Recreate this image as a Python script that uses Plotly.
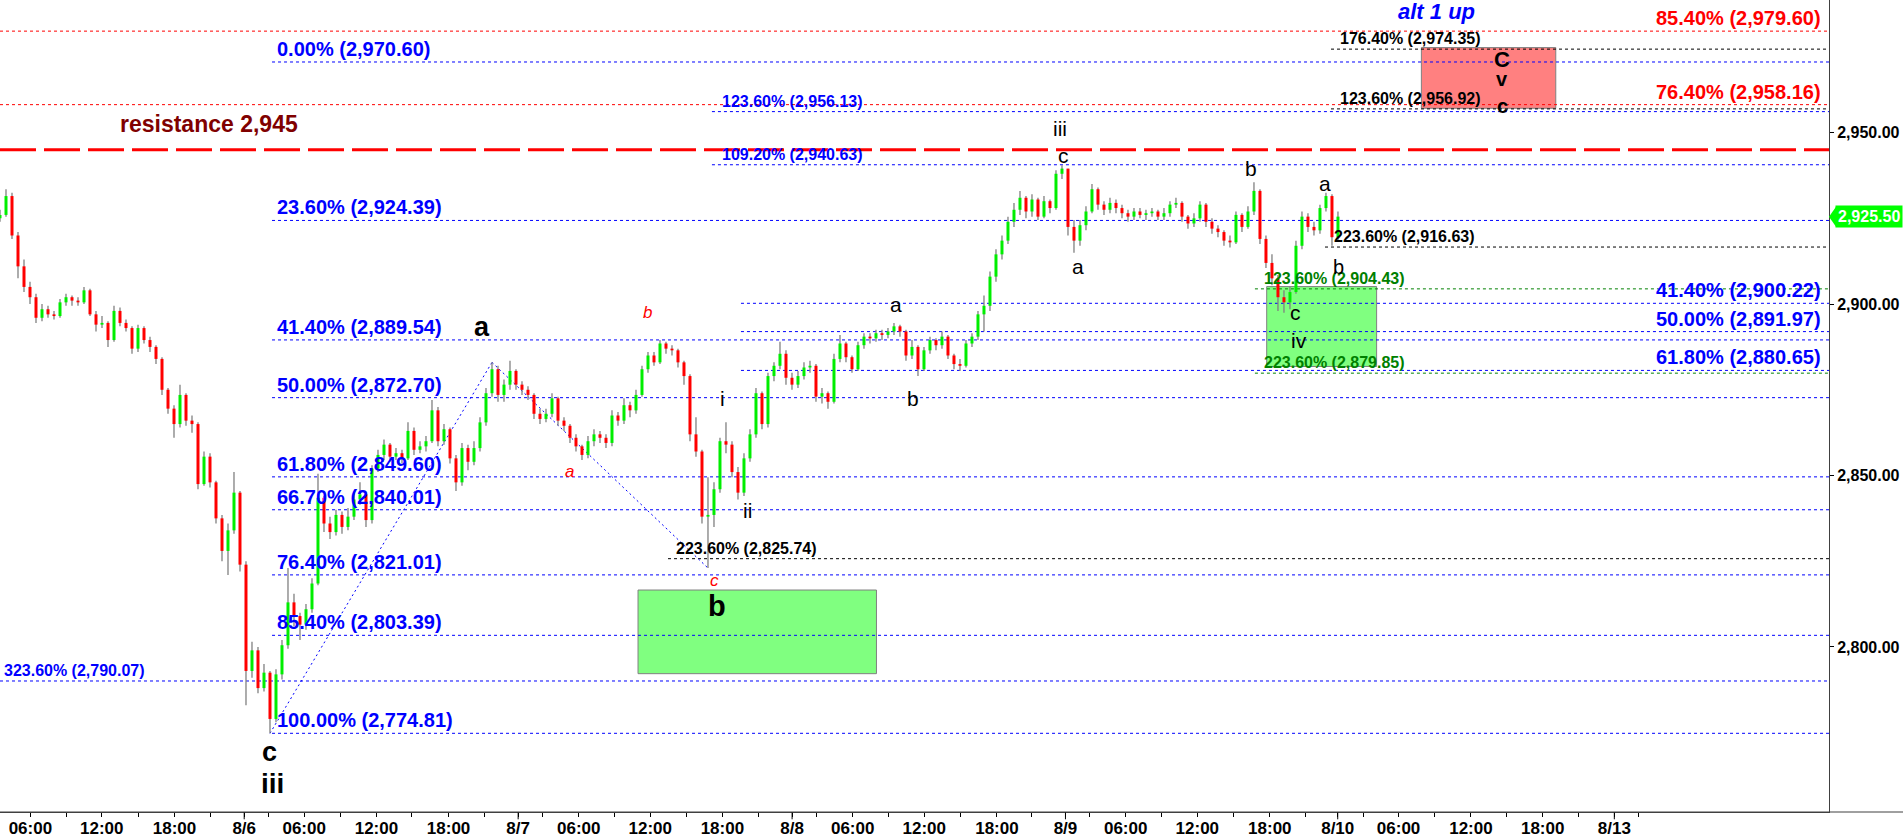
import plotly.graph_objects as go

# ---------------- price data (30-minute bars, trading-hour index) ----------------
first_open = 2925.0
close = [
    2926.0, 2931.5, 2920.0, 2911.0, 2905.0, 2902.0, 2896.0, 2898.5, 2897.0, 2896.5,
    2900.5, 2902.0, 2901.0, 2900.5, 2904.0, 2897.0, 2894.0, 2894.5, 2889.5, 2898.0,
    2894.5, 2893.0, 2887.0, 2893.0, 2889.5, 2887.5, 2884.0, 2875.0, 2869.5, 2865.0,
    2873.5, 2866.0, 2865.0, 2847.5, 2855.5, 2848.0, 2837.5, 2828.0, 2834.0, 2845.0,
    2824.0, 2793.0, 2799.0, 2788.0, 2792.5, 2779.0, 2792.0, 2800.5, 2813.0, 2809.0,
    2806.5, 2811.0, 2818.5, 2843.5, 2836.0, 2833.5, 2838.5, 2835.0, 2838.0, 2843.0,
    2844.5, 2837.0, 2852.0, 2856.0, 2859.0, 2855.5, 2856.5, 2855.0, 2863.0, 2857.5,
    2858.5, 2860.0, 2869.0, 2860.0, 2863.5, 2855.0, 2848.0, 2858.0, 2854.0, 2858.0,
    2865.5, 2874.0, 2881.0, 2873.5, 2876.5, 2880.5, 2876.5, 2875.0, 2873.5, 2868.0,
    2866.5, 2868.0, 2872.5, 2866.0, 2864.5, 2861.0, 2858.5, 2856.0, 2860.0, 2862.0,
    2861.0, 2859.5, 2867.5, 2866.0, 2870.5, 2869.0, 2873.5, 2881.0, 2885.0, 2883.0,
    2888.5, 2887.0, 2886.5, 2883.0, 2879.0, 2862.0, 2857.0, 2838.0, 2838.5, 2846.0,
    2860.0, 2859.0, 2851.0, 2845.0, 2855.0, 2862.0, 2874.0, 2865.0, 2879.0, 2882.0,
    2885.5, 2878.5, 2876.5, 2879.0, 2881.5, 2882.0, 2873.0, 2874.0, 2871.5, 2884.0,
    2888.5, 2884.5, 2881.0, 2888.0, 2890.5, 2890.0, 2891.5, 2891.0, 2892.0, 2893.5,
    2892.0, 2885.0, 2887.5, 2881.0, 2886.5, 2889.5, 2888.0, 2890.5, 2885.0, 2882.5,
    2882.0, 2888.5, 2890.5, 2897.0, 2899.5, 2908.0, 2914.5, 2918.5, 2924.0, 2927.5,
    2931.0, 2927.0, 2930.5, 2925.5, 2930.0, 2928.0, 2938.0, 2939.5, 2922.5, 2918.5,
    2923.0, 2927.0, 2933.5, 2929.0, 2927.5, 2929.5, 2928.0, 2926.5, 2925.5, 2927.0,
    2926.0, 2926.5, 2927.0, 2925.5, 2926.5, 2929.0, 2929.5, 2925.5, 2923.5, 2925.0,
    2929.0, 2924.0, 2922.0, 2921.0, 2918.5, 2918.0, 2926.0, 2922.5, 2927.0, 2933.0,
    2919.0, 2912.0, 2907.5, 2902.0, 2900.5, 2903.5, 2917.0, 2925.5, 2922.5, 2921.5,
    2928.0, 2931.5, 2919.5, 2925.5,
]
high = [
    2927.5, 2933.5, 2932.5, 2921.0, 2913.0, 2906.5, 2903.0, 2900.0, 2899.5, 2898.0,
    2901.5, 2903.0, 2902.5, 2902.0, 2905.0, 2904.5, 2898.0, 2896.5, 2895.0, 2899.5,
    2899.0, 2895.5, 2893.5, 2894.0, 2893.5, 2890.5, 2888.0, 2884.5, 2875.5, 2870.5,
    2876.5, 2874.0, 2867.5, 2865.5, 2857.0, 2856.5, 2848.5, 2838.5, 2836.0, 2851.0,
    2845.5, 2825.0, 2801.5, 2800.0, 2795.0, 2793.0, 2793.5, 2802.0, 2823.0, 2815.5,
    2810.0, 2812.5, 2820.0, 2850.5, 2844.0, 2838.0, 2840.0, 2839.5, 2840.5, 2845.0,
    2848.0, 2845.0, 2853.0, 2857.5, 2860.5, 2859.5, 2858.0, 2857.5, 2865.5, 2864.0,
    2860.0, 2861.5, 2872.0, 2870.0, 2865.0, 2864.0, 2856.0, 2859.5, 2859.0, 2860.0,
    2867.0, 2875.5, 2883.0, 2882.0, 2878.0, 2883.5, 2881.0, 2877.5, 2876.0, 2874.0,
    2869.5, 2869.5, 2874.0, 2873.0, 2867.0, 2865.0, 2862.0, 2859.0, 2861.5, 2863.5,
    2863.0, 2862.0, 2869.0, 2868.5, 2872.5, 2871.5, 2875.0, 2882.0, 2886.0, 2886.0,
    2889.5, 2889.0, 2888.0, 2887.0, 2883.5, 2879.5, 2867.0, 2857.5, 2849.5, 2848.0,
    2861.0, 2865.5, 2860.0, 2852.5, 2856.5, 2863.5, 2875.5, 2874.5, 2880.0, 2883.0,
    2889.0, 2886.5, 2880.0, 2880.5, 2883.0, 2883.5, 2882.5, 2875.5, 2874.5, 2885.5,
    2891.0, 2889.0, 2885.0, 2889.0, 2891.5, 2891.5, 2892.5, 2892.5, 2893.0, 2894.5,
    2894.0, 2892.5, 2889.5, 2888.0, 2887.5, 2890.5, 2890.0, 2892.0, 2891.0, 2885.5,
    2884.0, 2889.5, 2891.5, 2898.0, 2902.5, 2909.5, 2916.0, 2920.0, 2925.5, 2929.5,
    2933.0, 2931.5, 2932.0, 2931.0, 2931.5, 2930.5, 2939.0, 2940.5, 2939.5, 2924.5,
    2924.5, 2928.5, 2935.0, 2934.0, 2930.0, 2931.0, 2930.5, 2929.0, 2927.5, 2928.0,
    2928.0, 2927.5, 2928.0, 2927.5, 2928.0, 2930.0, 2931.0, 2930.0, 2926.0, 2926.5,
    2930.0, 2929.5, 2925.0, 2923.0, 2921.5, 2920.0, 2927.0, 2926.5, 2928.5, 2935.5,
    2933.5, 2920.0, 2914.5, 2908.5, 2904.0, 2905.0, 2918.5, 2927.0, 2926.5, 2924.0,
    2929.0, 2932.5, 2932.0, 2927.0,
]
low = [
    2924.0, 2925.5, 2919.0, 2907.5, 2903.5, 2900.0, 2894.5, 2895.0, 2896.0, 2895.5,
    2896.0, 2899.5, 2899.5, 2899.5, 2900.0, 2896.5, 2892.0, 2893.0, 2887.5, 2889.0,
    2893.5, 2892.0, 2885.5, 2886.0, 2888.5, 2886.0, 2882.5, 2873.5, 2868.0, 2861.0,
    2864.0, 2864.5, 2862.5, 2846.0, 2847.0, 2846.5, 2836.0, 2825.0, 2821.0, 2833.0,
    2822.0, 2783.0, 2791.0, 2786.5, 2787.0, 2774.8, 2778.0, 2790.5, 2799.5, 2806.0,
    2802.0, 2805.0, 2810.0, 2818.0, 2833.5, 2831.5, 2832.5, 2833.0, 2834.0, 2837.0,
    2841.5, 2835.0, 2836.0, 2851.0, 2854.5, 2854.0, 2854.5, 2853.5, 2854.5, 2856.0,
    2856.5, 2857.0, 2859.5, 2858.5, 2859.0, 2853.5, 2845.5, 2847.0, 2851.5, 2853.0,
    2857.0, 2864.5, 2873.0, 2871.5, 2871.5, 2875.0, 2875.0, 2873.5, 2872.0, 2866.5,
    2865.0, 2865.5, 2867.0, 2864.5, 2863.0, 2859.5, 2857.0, 2854.5, 2855.0, 2858.5,
    2859.5, 2858.0, 2858.5, 2864.5, 2865.0, 2867.0, 2868.0, 2873.0, 2880.0, 2882.0,
    2882.5, 2885.5, 2885.0, 2881.5, 2876.5, 2860.0, 2855.5, 2836.0, 2823.0, 2835.0,
    2845.0, 2856.5, 2849.5, 2843.0, 2844.0, 2854.0, 2861.0, 2863.5, 2864.0, 2877.5,
    2881.0, 2876.5, 2875.0, 2875.5, 2878.0, 2880.0, 2871.5, 2871.0, 2869.5, 2871.0,
    2883.0, 2883.0, 2880.0, 2880.5, 2887.0, 2888.5, 2889.0, 2889.5, 2890.0, 2891.0,
    2890.5, 2883.5, 2884.0, 2879.0, 2880.5, 2885.5, 2886.5, 2887.0, 2884.0, 2881.0,
    2880.5, 2881.5, 2887.5, 2889.5, 2892.0, 2898.0, 2906.5, 2913.0, 2917.5, 2922.5,
    2926.0, 2925.0, 2925.5, 2924.5, 2925.0, 2926.5, 2927.5, 2936.5, 2920.0, 2915.0,
    2917.0, 2921.5, 2926.5, 2927.5, 2926.0, 2926.5, 2926.5, 2925.0, 2924.0, 2924.5,
    2925.0, 2924.5, 2925.5, 2924.5, 2924.5, 2925.5, 2928.0, 2924.0, 2922.0, 2922.5,
    2924.0, 2922.5, 2920.5, 2919.5, 2917.0, 2916.5, 2917.5, 2921.0, 2922.0, 2926.0,
    2917.5, 2910.5, 2905.5, 2898.0, 2897.5, 2898.5, 2903.0, 2916.0, 2921.0, 2920.0,
    2920.5, 2927.0, 2917.0, 2918.5,
]
BAR_HOURS = 0.5
last_price = 2925.50

# ---------------- axes ----------------
tick_hours = [2.53, 8.48, 14.54, 20.35, 25.35, 31.37, 37.38, 43.18, 48.23, 54.19, 60.2, 66.01,
              71.06, 77.02, 83.08, 88.79, 93.81, 99.78, 105.82, 111.48, 116.55, 122.58, 128.56, 134.53]
tick_text = ["06:00", "12:00", "18:00", "8/6", "06:00", "12:00", "18:00", "8/7", "06:00", "12:00",
             "18:00", "8/8", "06:00", "12:00", "18:00", "8/9", "06:00", "12:00", "18:00", "8/10",
             "06:00", "12:00", "18:00", "8/13"]
minor_hours = [5.56, 11.52, 17.58, 22.38, 28.38, 34.33, 40.4, 45.2, 51.21, 57.22, 63.23, 68.03,
               74.04, 80.08, 86.0, 90.82, 96.8, 102.78, 108.8, 113.62, 119.54, 125.57, 131.55, 136.57]
date_hours = [20.35, 43.18, 66.01, 88.79, 111.48, 134.53]
y_ticks = [2800, 2850, 2900, 2950]
X_MAX = 152.42
Y_RANGE = [2751.86, 2988.68]

# ---------------- levels ----------------
fib_main_pct = ["0.00%", "23.60%", "41.40%", "50.00%", "61.80%", "66.70%", "76.40%", "85.40%", "100.00%"]
fib_main_price = [2970.60, 2924.39, 2889.54, 2872.70, 2849.60, 2840.01, 2821.01, 2803.39, 2774.81]
fib_right_pct = ["41.40%", "50.00%", "61.80%"]
fib_right_price = [2900.22, 2891.97, 2880.65]
red_pct = ["85.40%", "76.40%"]
red_price = [2979.60, 2958.16]
ext_blue_pct = ["123.60%", "109.20%"]
ext_blue_price = [2956.13, 2940.63]
ext_low_pct = "323.60%"
ext_low_price = 2790.07
black_pct = ["176.40%", "123.60%", "223.60%", "223.60%"]
black_price = [2974.35, 2956.92, 2916.63, 2825.74]
green_pct = ["123.60%", "223.60%"]
green_price = [2904.43, 2879.85]
resistance = 2945

FONT = "Liberation Sans, Arial, sans-serif"
BLUE, RED, GREEN_T = "#0000ff", "#ff0000", "#008000"

fig = go.Figure()

# candles
opens = [first_open] + close[:-1]
wx, wy, ux, uy, dx, dy = [], [], [], [], [], []
for i, (o, h, l, c) in enumerate(zip(opens, high, low, close)):
    x = i * BAR_HOURS
    wx += [x, x, None]
    wy += [min(l, o, c), max(h, o, c), None]
    if c >= o:
        ux += [x, x, None]; uy += [o, c, None]
    else:
        dx += [x, x, None]; dy += [o, c, None]
fig.add_trace(go.Scatter(x=wx, y=wy, mode="lines", line=dict(color="#808080", width=1.3), hoverinfo="skip"))
fig.add_trace(go.Scatter(x=ux, y=uy, mode="lines", line=dict(color="#00ee00", width=3), hoverinfo="skip"))
fig.add_trace(go.Scatter(x=dx, y=dy, mode="lines", line=dict(color="#ff0000", width=3), hoverinfo="skip"))

shapes, ann = [], []

def hline(p, x0, color, dash="3px,3px", width=1):
    shapes.append(dict(type="line", xref="x", yref="y", x0=x0, x1=X_MAX, y0=p, y1=p,
                       line=dict(color=color, width=width, dash=dash), layer="below"))

def label(text, x, p, color, size, anchor="left"):
    ann.append(dict(x=x, y=p, xref="x", yref="y", text="<b>%s</b>" % text, showarrow=False,
                    xanchor=anchor, yanchor="bottom", font=dict(family=FONT, size=size, color=color)))

def fmt(pct, p):
    return "%s (%s)" % (pct, format(p, ",.2f"))

# boxes
boxes = [(53.17, 73.04, 2792.2, 2816.6, "#80ff80"),
         (105.56, 114.72, 2881.8, 2905.1, "#80ff80"),
         (118.45, 129.65, 2957.1, 2974.8, "#ff8080")]
for x0, x1, y0, y1, col in boxes:
    shapes.append(dict(type="rect", xref="x", yref="y", x0=x0, x1=x1, y0=y0, y1=y1,
                       fillcolor=col, line=dict(color="#808080", width=1), layer="below"))

for pct, p in zip(fib_main_pct, fib_main_price):
    hline(p, 22.67, BLUE)
    label(fmt(pct, p), 22.92, p, BLUE, 20)
for pct, p in zip(fib_right_pct, fib_right_price):
    hline(p, 61.75, BLUE)
    label(fmt(pct, p), 151.92, p, BLUE, 20, "right")
for pct, p in zip(red_pct, red_price):
    hline(p, 0, RED)
    label(fmt(pct, p), 151.92, p, RED, 20, "right")
for pct, p in zip(ext_blue_pct, ext_blue_price):
    hline(p, 59.33, BLUE)
    label(fmt(pct, p), 60.0, p, BLUE, 16)
hline(ext_low_price, 0, BLUE)
label(fmt(ext_low_pct, ext_low_price), 0.17, ext_low_price, BLUE, 16)
black_start = [110.92, 110.92, 110.42, 55.67]
black_lab = [111.5, 111.5, 111.0, 56.17]
for pct, p, s, lx in zip(black_pct, black_price, black_start, black_lab):
    hline(p, s, "#000000")
    label(fmt(pct, p), lx, p, "#000000", 16)
for pct, p in zip(green_pct, green_price):
    hline(p, 104.58, GREEN_T)
    label(fmt(pct, p), 105.17, p, GREEN_T, 16)

hline(resistance, 0, "#ff0000", dash="36px,8px", width=3)
ann.append(dict(x=17.42, y=2952.5, xref="x", yref="y", text="<b>resistance 2,945</b>", showarrow=False,
                xanchor="center", yanchor="middle", font=dict(family=FONT, size=23, color="#800000")))

# diagonal wave connectors (bar index, which extreme)
diag_pts = [(45, "low"), (82, "high"), (118, "low")]
for (i0, k0), (i1, k1) in zip(diag_pts[:-1], diag_pts[1:]):
    y0 = low[i0] if k0 == "low" else high[i0]
    y1 = low[i1] if k1 == "low" else high[i1]
    shapes.append(dict(type="line", xref="x", yref="y", x0=i0 * BAR_HOURS, x1=i1 * BAR_HOURS, y0=y0, y1=y1,
                       line=dict(color=BLUE, width=1, dash="2px,3px"), layer="below"))

# wave labels: text, hour, price, size, color
waves = [
    ("<b>a</b>", 40.17, 2893.3, 27, "black"),
    ("<i>b</i>", 53.92, 2897.4, 17, RED),
    ("<i>a</i>", 47.42, 2851.1, 17, RED),
    ("<i>c</i>", 59.58, 2819.5, 17, RED),
    ("<b>b</b>", 59.75, 2811.9, 29, "black"),
    ("i", 60.22, 2872.5, 21, "black"),
    ("ii", 62.28, 2839.7, 21, "black"),
    ("a", 74.67, 2900.0, 21, "black"),
    ("b", 76.06, 2872.5, 21, "black"),
    ("iii", 88.32, 2951.3, 21, "black"),
    ("c", 88.63, 2943.3, 21, "black"),
    ("a", 89.86, 2910.9, 21, "black"),
    ("b", 104.22, 2939.6, 21, "black"),
    ("a", 110.42, 2935.2, 21, "black"),
    ("b", 111.58, 2910.8, 20, "black"),
    ("c", 108.0, 2897.5, 21, "black"),
    ("iv", 108.28, 2889.5, 21, "black"),
    ("<b>C</b>", 125.17, 2971.4, 22, "black"),
    ("<b>v</b>", 125.17, 2965.6, 20, "black"),
    ("<b>c</b>", 125.17, 2957.8, 20, "black"),
    ("<b><i>alt 1 up</i></b>", 119.72, 2985.3, 22, BLUE),
    ("<b>c</b>", 22.42, 2769.4, 27, "black"),
    ("<b>iii</b>", 22.75, 2760.3, 28, "black"),
]
for t, x, p, s, col in waves:
    ann.append(dict(x=x, y=p, xref="x", yref="y", text=t, showarrow=False, xanchor="center",
                    yanchor="middle", font=dict(family=FONT, size=s, color=col)))

# date ticks (longer)
for d in date_hours:
    shapes.append(dict(type="line", xref="x", yref="paper", x0=d, x1=d, y0=0, y1=-0.009,
                       line=dict(color="black", width=1)))
# x-axis baseline extended under the price scale
shapes.append(dict(type="line", xref="paper", yref="paper", x0=0, x1=1.05, y0=0, y1=0,
                   line=dict(color="#404040", width=1)))

# last price tag
shapes.append(dict(type="path", xref="paper", yref="y", xsizemode="pixel", ysizemode="pixel",
                   xanchor=1, yanchor=last_price, path="M 0 0 L 7 -10 L 7 10 Z",
                   fillcolor="#00ff00", line=dict(width=0)))
ann.append(dict(x=1, y=last_price, xref="paper", yref="y", xanchor="left", yanchor="middle", xshift=6,
                text="<b>%s</b>" % format(last_price, ",.2f"), showarrow=False, bgcolor="#00ff00",
                borderpad=2, font=dict(family=FONT, size=16, color="white")))

fig.update_layout(
    width=1903, height=839, margin=dict(l=0, r=74, t=0, b=27),
    paper_bgcolor="white", plot_bgcolor="white", showlegend=False,
    font=dict(family=FONT, color="black"),
    shapes=shapes, annotations=ann,
    xaxis=dict(range=[0, X_MAX], tickmode="array", tickvals=tick_hours, ticktext=tick_text,
               ticks="outside", ticklen=4, tickcolor="black", showgrid=False, zeroline=False,
               showline=True, linecolor="#404040", automargin=False, ticklabelstandoff=-3,
               tickfont=dict(family=FONT, size=17, color="black", weight="bold"),
               minor=dict(tickmode="array", tickvals=minor_hours, ticks="outside", ticklen=4,
                          tickcolor="black", showgrid=False),
               rangeslider=dict(visible=False)),
    yaxis=dict(range=Y_RANGE, side="right", tickmode="array", tickvals=y_ticks, tickformat=",.2f",
               ticks="outside", ticklen=4, tickcolor="black", showgrid=False, zeroline=False,
               showline=True, linecolor="#404040", automargin=False,
               tickfont=dict(family=FONT, size=16, color="black", weight="bold")),
)

fig.write_html("out.html", config={"displayModeBar": False},
               post_script="document.body.style.margin='0';document.body.style.overflow='hidden';")
